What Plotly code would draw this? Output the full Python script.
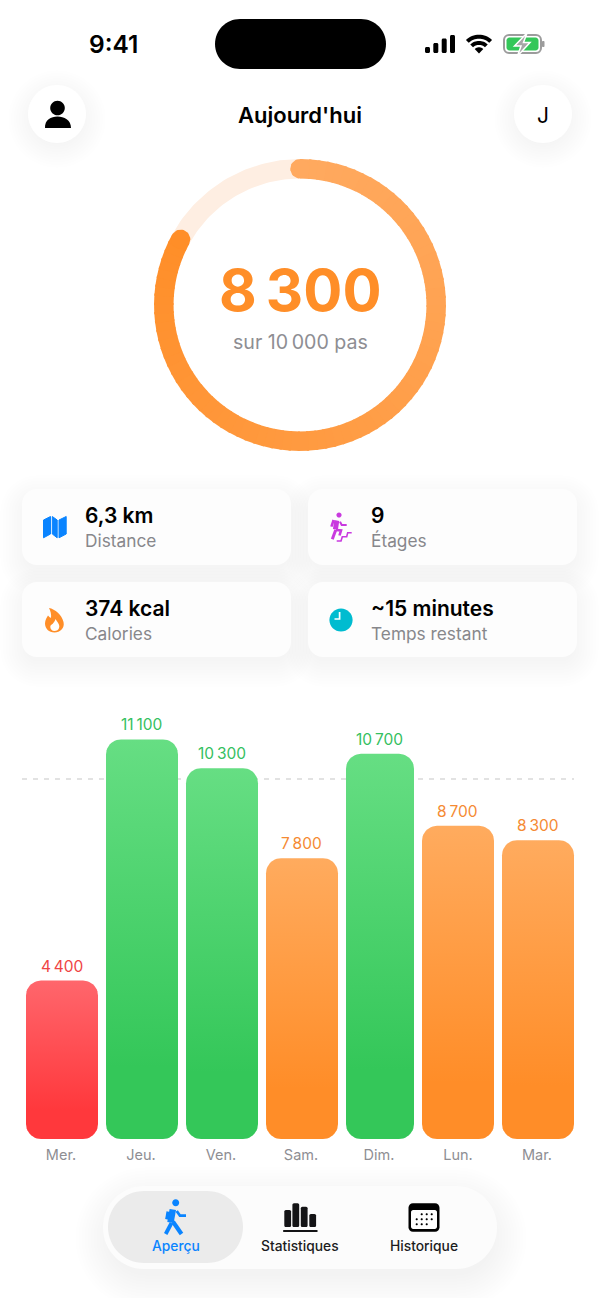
import numpy as np
import plotly.graph_objects as go

# ---------- data ----------
days = ["Mer.", "Jeu.", "Ven.", "Sam.", "Dim.", "Lun.", "Mar."]
steps = [4400, 11100, 10300, 7800, 10700, 8700, 8300]
goal = 10000
today_steps = 8300
card_values = ["6,3 km", "9", "374 kcal", "~15 minutes"]
card_labels = ["Distance", "Étages", "Calories", "Temps restant"]
tab_labels = ["Aperçu", "Statistiques", "Historique"]

# ---------- layout constants ----------
W, H = 600, 1298
bar_center = [62, 142, 222, 302, 380, 458, 538]
bar_width = [72, 72, 72, 72, 68, 72, 72]
tick_center = [61, 141, 221, 301, 379, 458, 537]
BASE_PX, TOP_PX = 1139, 700
PX_PER_STEP = 0.036
BAR_R = 15
FONT = "Inter"
NB = "\u2009"


def fmt(v, sep=NB):
    return f"{v:,}".replace(",", sep)


def rr(x0, y0, x1, y1, r):
    k = 0.5523 * r
    return (f"M{x0+r},{y0} L{x1-r},{y0} C{x1-r+k},{y0} {x1},{y0+r-k} {x1},{y0+r} "
            f"L{x1},{y1-r} C{x1},{y1-r+k} {x1-r+k},{y1} {x1-r},{y1} "
            f"L{x0+r},{y1} C{x0+r-k},{y1} {x0},{y1-r+k} {x0},{y1-r} "
            f"L{x0},{y0+r} C{x0},{y0+r-k} {x0+r-k},{y0} {x0+r},{y0} Z")


def circ(cx, cy, r):
    return rr(cx - r, cy - r, cx + r, cy + r, r)


def poly(pts, close=True):
    s = "M" + " L".join(f"{x},{y}" for x, y in pts)
    return s + (" Z" if close else "")


shapes = []


def fill(path, color):
    shapes.append(dict(type="path", path=path, xref="x", yref="y", layer="below",
                       fillcolor=color, line=dict(width=0)))


def stroke(path, color, w, fc="rgba(0,0,0,0)"):
    shapes.append(dict(type="path", path=path, xref="x", yref="y", layer="below",
                       fillcolor=fc, line=dict(color=color, width=w)))


def shadow(x0, y0, x1, y1, r, dy=8, blur=26, n=10, a=0.004):
    for i in range(n):
        d = blur * (1 - i / n) - 6
        fill(rr(x0 - d, y0 - d + dy, x1 + d, y1 + d + dy, max(r + d, 2)), f"rgba(0,0,0,{a})")


annots = []


def text(x, y, s, size, color, weight=400, anchor="center"):
    annots.append(dict(x=x, y=y, xref="x", yref="y", text=s, showarrow=False, xanchor=anchor,
                       yanchor="middle", align=anchor,
                       font=dict(family=FONT, size=size, color=color, weight=weight)))


# ---------- status bar ----------
text(113, 44, "9:41", 24.5, "#000000", 600)
fill(rr(215, 19, 386, 69, 25), "#000000")
for x0, top in zip([425, 433.3, 441.7, 450], [47, 43, 38.5, 35]):
    fill(rr(x0, top, x0 + 5, 53, 1.5), "#000000")


def wedge(cx, cy, r0, r1, half=44):
    a = np.radians(np.linspace(-half, half, 17))
    out = [(cx + r1 * np.sin(t), cy - r1 * np.cos(t)) for t in a]
    inn = [(cx + r0 * np.sin(t), cy - r0 * np.cos(t)) for t in a[::-1]]
    return poly([(round(x, 2), round(y, 2)) for x, y in out + inn])


fill(wedge(479, 53.5, 0, 6.2), "#000000")
fill(wedge(479, 53.5, 8.6, 12.6), "#000000")
fill(wedge(479, 53.5, 14.8, 18.8), "#000000")
stroke(rr(504, 35, 541, 53, 5), "#9c9c9c", 2)
fill(rr(506.5, 37.5, 538.5, 50.5, 3), "#34C759")
fill(rr(542, 41, 544.5, 47, 1), "#9c9c9c")
shapes.append(dict(type="path", xref="x", yref="y", layer="below",
                   path=poly([(527, 33), (514.5, 46), (521, 46), (517.5, 56), (530, 42.5), (523.5, 42.5)]),
                   fillcolor="#a6a6a6", line=dict(color="#ffffff", width=1.5)))

# ---------- header ----------
shadow(28, 85, 86, 143, 29, dy=5, blur=26, n=10, a=0.003)
fill(circ(57, 114, 29), "#ffffff")
fill(circ(57.5, 108, 7.3), "#000000")
fill("M45,128 C44.5,120 51,116.5 57.5,116.5 C64,116.5 71,120 71,128 Z", "#000000")
shadow(514, 85, 572, 143, 29, dy=5, blur=26, n=10, a=0.003)
fill(circ(543, 114, 29), "#ffffff")
text(543, 115, "J", 21, "#000000", 400)
text(300, 115, "Aujourd'hui", 22, "#000000", 600)

# ---------- cards ----------
cards = [(22, 489, 291, 565), (308, 489, 577, 565), (22, 582, 291, 657), (308, 582, 577, 657)]
for c in cards:
    shadow(*c, 15, dy=8, blur=28, n=10, a=0.0035)
for c in cards:
    fill(rr(*c, 15), "#fdfdfd")
for i, c in enumerate(cards):
    x = c[0] + 61
    text(x, c[1] + 26, card_values[i], 21, "#000000", 600, "left")
    text(x, c[1] + 51.5, card_labels[i], 17.3, "#87878b", 400, "left")

BLUE = "#0A84FF"
for pts in ([(43.5, 520), (50.5, 516.5), (50.5, 534), (43.5, 537.8)],
            [(52.3, 516.5), (57.2, 520), (57.2, 537.8), (52.3, 534)],
            [(59, 520), (66.2, 516.5), (66.2, 534), (59, 537.8)]):
    shapes.append(dict(type="path", path=poly(pts), xref="x", yref="y", layer="below",
                       fillcolor=BLUE, line=dict(color=BLUE, width=1)))

FLAME = "#FF8E28"
fill("M49,608 C55,609 62,615 63.5,622 C65,628 60,632.5 54.5,632.5 C49,632.5 45,628.5 45,623.5 "
     "C45,620 47,617 48,615.5 C49.5,617 50,617.5 51,618 C51.5,614.5 50.5,611 49,608 Z", FLAME)
fill("M55.5,619 C57,622 59.8,624 59.3,627 C58.8,630 56.5,631 54.5,631 C52,631 50.3,629 50.3,627 "
     "C50.3,624.5 52.5,624.5 53.3,623 C54,622 55.3,620.5 55.5,619 Z", "#ffffff")

PURPLE = "#C93ADF"
fill(circ(339, 515, 2.6), PURPLE)
stroke(poly([(336.8, 520.5), (335.4, 529.5)], False), PURPLE, 5)
stroke(poly([(340, 521.7), (341.7, 525), (346.7, 525)], False), PURPLE, 2)
stroke(poly([(333.6, 520), (331.4, 526.7)], False), PURPLE, 2.5)
stroke(poly([(335.7, 530), (332.3, 539.3)], False), PURPLE, 3)
stroke(poly([(336, 530), (341, 530.5), (339.5, 535.5)], False), PURPLE, 2.6)
stroke(poly([(336.7, 541), (341, 541), (342.3, 536.7), (346.7, 536.7), (347.7, 532.7), (351.7, 532.7)], False), PURPLE, 1.6)

fill(circ(341, 620, 11.6), "#00BCD0")
stroke(poly([(339.6, 612), (339.6, 619), (334.5, 619)], False), "#ffffff", 1.7)

# ---------- tab bar ----------
shadow(105, 1187, 497, 1269, 41, dy=10, blur=36, n=12, a=0.0035)
fill(rr(103, 1186, 497, 1269, 41), "#fcfcfc")
fill(rr(108, 1191, 243, 1263, 36), "#EBEBEB")
for lbl, x, col in zip(tab_labels, [176, 300, 424], [BLUE, "#1c1c1e", "#1c1c1e"]):
    text(x, 1246, lbl, 13.8, col, 500)

fill(circ(175.7, 1202.7, 3.5), BLUE)
stroke(poly([(172.8, 1209.5), (170.5, 1222.5)], False), BLUE, 6.5)
stroke(poly([(176.7, 1211), (180, 1215.7), (186, 1215.7)], False), BLUE, 2.8)
stroke(poly([(168.3, 1211.7), (166.9, 1219.3)], False), BLUE, 3.6)
stroke(poly([(171.5, 1223), (165.7, 1234)], False), BLUE, 3.8)
stroke(poly([(173, 1221.7), (181.5, 1234)], False), BLUE, 4.2)

DARK = "#141416"
for x0, top in zip([284.3, 292.4, 300.8, 309.3], [1210, 1203.3, 1206.7, 1214]):
    fill(rr(x0, top, x0 + 6.8, 1227, 1.6), DARK)
fill(rr(283, 1230, 317.7, 1232, 1), DARK)

fill(rr(408.5, 1203.3, 439.5, 1231.7, 4.5), "#000000")
fill(rr(411, 1210, 437, 1229, 2.2), "#ffffff")
for cy, xs in zip([1214.3, 1219.3, 1224.3],
                  [[421.7, 426.7, 431.7], [416.7, 421.7, 426.7, 431.7], [416.7, 421.7, 426.7]]):
    for cx in xs:
        fill(circ(cx, cy, 1.05), "#000000")

# ---------- ring ----------
CX, CY, R0, R1 = 300, 305, 126.5, 146
traces = []


def arc_xy(t0, t1):
    a = 2 * np.pi * np.linspace(t0, t1, max(int((t1 - t0) * 240), 3))
    xs = np.r_[CX + R1 * np.sin(a), CX + R0 * np.sin(a[::-1])]
    ys = np.r_[CY - R1 * np.cos(a), CY - R0 * np.cos(a[::-1])]
    return np.r_[xs, xs[0]], np.r_[ys, ys[0]]


def blob(x, y, color):
    traces.append(go.Scatter(x=x, y=y, mode="lines", fill="toself", fillcolor=color,
                             line=dict(width=0, color=color), hoverinfo="skip",
                             showlegend=False, xaxis="x", yaxis="y"))


def ramp(t):
    stops_t = [0, 0.25, 0.5, 0.83]
    c = [np.interp(t, stops_t, s) for s in ([255, 255, 255, 255], [169, 163, 154, 142], [95, 82, 64, 40])]
    return "rgb({:.0f},{:.0f},{:.0f})".format(*c)


frac = today_steps / goal
blob(*arc_xy(frac, 1.0), "#FEEEE2")
n_seg = 83
for i in range(n_seg):
    t0 = frac * i / n_seg
    t1 = min(frac * (i + 1.25) / n_seg, frac)
    blob(*arc_xy(t0, t1), ramp(t0))
capr = (R1 - R0) / 2
th = np.linspace(0, 2 * np.pi, 41)
rm = (R0 + R1) / 2
blob(CX + capr * np.cos(th), CY - rm + capr * np.sin(th), ramp(0))
ae = 2 * np.pi * frac
blob(CX + rm * np.sin(ae) + capr * np.cos(th), CY - rm * np.cos(ae) + capr * np.sin(th), ramp(frac))

text(300, 290, fmt(today_steps), 58, "#FF8E28", 700)
text(300, 342, f"sur {fmt(goal)} pas", 19.6, "#8e8e93", 400)

# ---------- bar chart ----------
PALETTE = {"red": ("#FF383C", "#FF666C", "#EF4444"),
           "orange": ("#FF8D28", "#FFAB5E", "#F58A33"),
           "green": ("#34C759", "#66DE83", "#34C060")}


def kind(v):
    return "green" if v >= goal else ("orange" if v >= 5000 else "red")


y_top = (BASE_PX - TOP_PX) / PX_PER_STEP
ry = BAR_R / PX_PER_STEP
traces.append(go.Bar(x=bar_center, y=steps, width=bar_width, xaxis="x2", yaxis="y2",
                     marker=dict(color="rgba(0,0,0,0)", line=dict(width=0), cornerradius=BAR_R),
                     showlegend=False, name="Pas"))

phi = np.linspace(0, np.pi / 2, 12)
for v, c, w in zip(steps, bar_center, bar_width):
    l, r = c - w / 2, c + w / 2
    xs = np.r_[r - BAR_R + BAR_R * np.sin(phi), r - BAR_R + BAR_R * np.cos(phi),
               l + BAR_R - BAR_R * np.sin(phi), l + BAR_R - BAR_R * np.cos(phi)]
    ys = np.r_[v - ry + ry * np.cos(phi), ry - ry * np.sin(phi),
               ry - ry * np.cos(phi), v - ry + ry * np.sin(phi)]
    bot, top, lab = PALETTE[kind(v)]
    traces.append(go.Scatter(x=np.r_[xs, xs[0]], y=np.r_[ys, ys[0]], mode="lines", fill="toself",
                             fillgradient=dict(type="vertical", colorscale=[[0, bot], [0.18, bot], [1, top]]),
                             line=dict(width=0, color=bot), hoverinfo="skip", showlegend=False,
                             xaxis="x2", yaxis="y2"))
    annots.append(dict(x=c - 0.5, y=v, xref="x2", yref="y2", text=fmt(v), showarrow=False, yanchor="bottom",
                       yshift=3, font=dict(family=FONT, size=15.5, color=lab, weight=400)))

shapes.append(dict(type="line", xref="x2", yref="y2", x0=22, x1=574, y0=goal, y1=goal, layer="below",
                   line=dict(color="#c6c6c6", width=1.2, dash="5px,6px")))

fig = go.Figure(traces)
fig.update_layout(
    width=W, height=H, margin=dict(l=0, r=0, t=0, b=0), autosize=False,
    paper_bgcolor="#ffffff", plot_bgcolor="rgba(0,0,0,0)", showlegend=False, barmode="overlay",
    shapes=shapes, annotations=annots,
    xaxis=dict(domain=[0, 1], range=[0, W], visible=False, fixedrange=True, anchor="y"),
    yaxis=dict(domain=[0, 1], range=[H, 0], visible=False, fixedrange=True, anchor="x"),
    xaxis2=dict(domain=[0, 1], range=[0, W], anchor="y2", showgrid=False, zeroline=False, showline=False,
                tickmode="array", tickvals=tick_center, ticktext=days, ticks="", ticklabelstandoff=5,
                tickfont=dict(family=FONT, size=14.5, color="#8e8e93"), fixedrange=True),
    yaxis2=dict(domain=[(H - BASE_PX) / H, 1 - TOP_PX / H], range=[0, y_top], anchor="x2", visible=False,
                fixedrange=True),
)
fig.write_html("out.html", config={"displayModeBar": False},
               post_script="document.body.style.margin='0';document.body.style.overflow='hidden';")
